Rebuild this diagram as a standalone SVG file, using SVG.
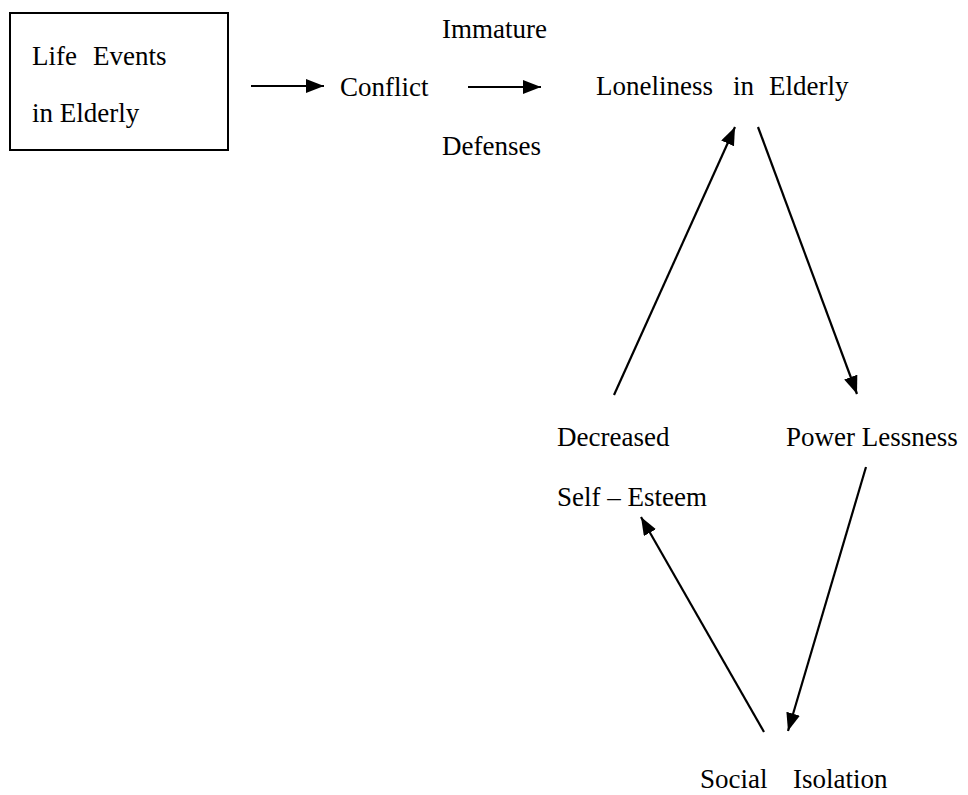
<svg xmlns="http://www.w3.org/2000/svg" width="968" height="795" viewBox="0 0 968 795">
<style>
text{font-family:'Liberation Serif','Times New Roman',Times,'DejaVu Serif',serif;font-size:27px;fill:#000}
.c{stroke:#000;stroke-width:2.2;fill:none;marker-end:url(#ah)}
</style>
<defs>
<marker id="ah" markerUnits="userSpaceOnUse" markerWidth="20" markerHeight="16" refX="18" refY="7" orient="auto">
<path d="M0,0 L18,7 L0,14 z" fill="#000"/>
</marker>
</defs>
<rect width="968" height="795" fill="#fff"/>
<g id="life-events">
<rect x="10" y="13" width="218" height="137" fill="none" stroke="#000" stroke-width="2"/>
<text font-family="Liberation Serif, serif" x="32" y="65">Life<tspan x="93">Events</tspan></text>
<text font-family="Liberation Serif, serif" x="32" y="122">in Elderly</text>
</g>
<g id="conflict"><text font-family="Liberation Serif, serif" x="340" y="96">Conflict</text></g>
<g id="immature-defenses">
<text font-family="Liberation Serif, serif" x="442" y="38">Immature</text>
<text font-family="Liberation Serif, serif" x="442" y="155">Defenses</text>
</g>
<g id="loneliness"><text font-family="Liberation Serif, serif" x="596" y="95">Loneliness<tspan x="733">in</tspan><tspan x="769">Elderly</tspan></text></g>
<g id="decreased-self-esteem">
<text font-family="Liberation Serif, serif" x="557" y="446">Decreased</text>
<text font-family="Liberation Serif, serif" x="557" y="506">Self – Esteem</text>
</g>
<g id="powerlessness"><text font-family="Liberation Serif, serif" x="786" y="446">Power Lessness</text></g>
<g id="social-isolation"><text font-family="Liberation Serif, serif" x="700" y="788">Social<tspan x="793">Isolation</tspan></text></g>
<g id="connectors">
<line class="c" x1="251" y1="86" x2="324" y2="86"/>
<line class="c" x1="468" y1="87" x2="541" y2="87"/>
<line class="c" x1="614" y1="395" x2="735" y2="127"/>
<line class="c" x1="758" y1="127" x2="857" y2="394"/>
<line class="c" x1="866" y1="467" x2="788" y2="731"/>
<line class="c" x1="764" y1="732" x2="641" y2="517"/>
</g>
</svg>
